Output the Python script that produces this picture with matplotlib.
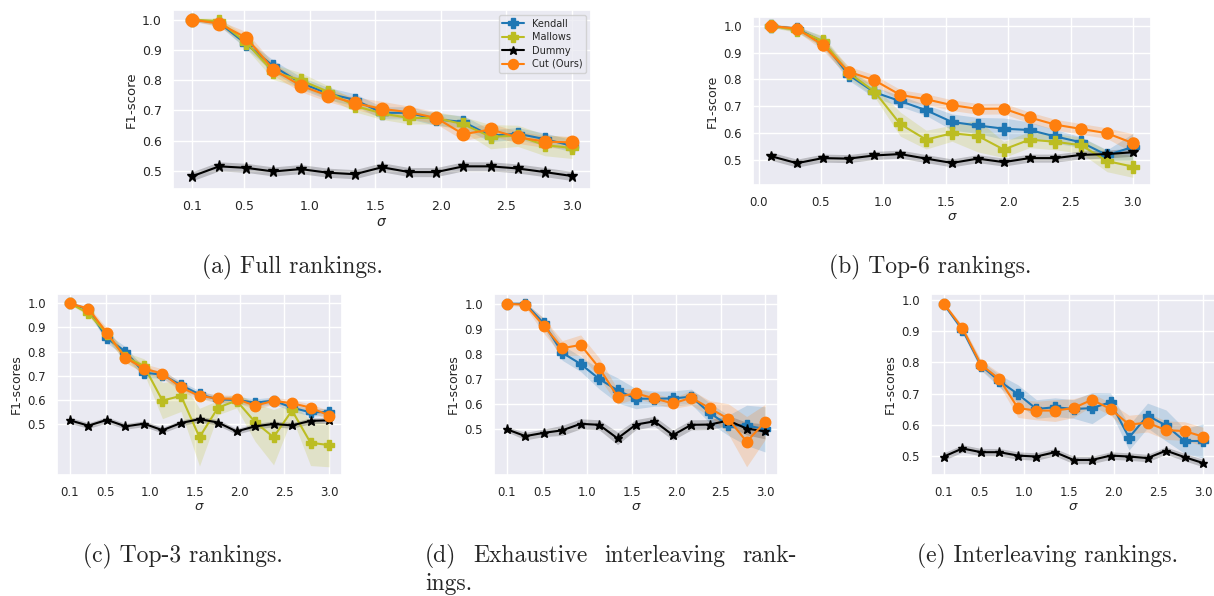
import numpy as np
import matplotlib
matplotlib.use("Agg")
import matplotlib.pyplot as plt
import seaborn as sns

sns.set_theme(style="darkgrid")
plt.rcParams['font.family'] = ['DejaVu Sans']
plt.rcParams['mathtext.fontset'] = 'dejavusans'

sigma = np.linspace(0.1, 3.0, 15)

# (a) Full rankings
a_kendall = [1.0, 0.99, 0.919, 0.846, 0.791, 0.756, 0.735, 0.692, 0.692, 0.670, 0.662, 0.616, 0.623, 0.605, 0.583]
a_mallows = [1.0, 0.995, 0.924, 0.827, 0.800, 0.762, 0.715, 0.690, 0.675, 0.675, 0.654, 0.613, 0.616, 0.585, 0.576]
a_dummy = [0.482, 0.515, 0.510, 0.498, 0.506, 0.494, 0.489, 0.512, 0.496, 0.496, 0.515, 0.515, 0.508, 0.496, 0.483]
a_cut = [1.0, 0.987, 0.940, 0.835, 0.782, 0.749, 0.724, 0.705, 0.694, 0.675, 0.621, 0.637, 0.611, 0.597, 0.594]
a_kendall_err = [0.005, 0.01, 0.015, 0.02, 0.02, 0.02, 0.02, 0.02, 0.02, 0.02, 0.02, 0.02, 0.02, 0.02, 0.02]
a_mallows_err = [0.005, 0.01, 0.02, 0.025, 0.025, 0.02, 0.02, 0.02, 0.02, 0.02, 0.025, 0.04, 0.035, 0.035, 0.035]
a_dummy_err = [0.015] * 15
a_cut_err = [0.005, 0.01, 0.02, 0.02, 0.02, 0.02, 0.02, 0.025, 0.02, 0.02, 0.02, 0.02, 0.02, 0.02, 0.02]

# (b) Top-6 rankings
b_kendall = [1.0, 0.99, 0.94, 0.817, 0.752, 0.719, 0.685, 0.641, 0.628, 0.616, 0.611, 0.587, 0.565, 0.517, 0.548]
b_mallows = [1.0, 0.985, 0.944, 0.825, 0.755, 0.633, 0.575, 0.599, 0.589, 0.538, 0.575, 0.567, 0.554, 0.495, 0.474]
b_dummy = [0.513, 0.487, 0.506, 0.504, 0.516, 0.521, 0.504, 0.488, 0.504, 0.491, 0.506, 0.506, 0.518, 0.521, 0.528]
b_cut = [1.0, 0.99, 0.929, 0.829, 0.797, 0.742, 0.726, 0.704, 0.690, 0.691, 0.658, 0.631, 0.615, 0.599, 0.562]
b_kendall_err = [0.005, 0.01, 0.02, 0.02, 0.02, 0.02, 0.02, 0.03, 0.03, 0.04, 0.03, 0.025, 0.02, 0.02, 0.05]
b_mallows_err = [0.005, 0.01, 0.02, 0.02, 0.02, 0.045, 0.035, 0.03, 0.06, 0.03, 0.03, 0.03, 0.03, 0.04, 0.04]
b_dummy_err = [0.015] * 15
b_cut_err = [0.005, 0.01, 0.02, 0.02, 0.02, 0.02, 0.02, 0.02, 0.02, 0.02, 0.02, 0.02, 0.02, 0.02, 0.035]

# (c) Top-3 rankings
c_kendall = [1.0, 0.975, 0.855, 0.800, 0.712, 0.704, 0.660, 0.622, 0.601, 0.599, 0.588, 0.596, 0.567, 0.547, 0.549]
c_mallows = [1.0, 0.959, 0.873, 0.777, 0.740, 0.596, 0.616, 0.444, 0.567, 0.596, 0.507, 0.444, 0.555, 0.421, 0.411]
c_dummy = [0.514, 0.492, 0.516, 0.489, 0.500, 0.473, 0.503, 0.519, 0.505, 0.468, 0.489, 0.499, 0.493, 0.512, 0.514]
c_cut = [1.0, 0.978, 0.877, 0.774, 0.729, 0.708, 0.651, 0.615, 0.605, 0.603, 0.575, 0.595, 0.585, 0.567, 0.534]
c_kendall_err = [0.005, 0.01, 0.02, 0.02, 0.02, 0.015, 0.015, 0.015, 0.015, 0.015, 0.015, 0.015, 0.015, 0.015, 0.015]
c_mallows_err = [0.005, 0.01, 0.02, 0.02, 0.03, 0.075, 0.065, 0.12, 0.03, 0.03, 0.08, 0.115, 0.03, 0.095, 0.09]
c_dummy_err = [0.012] * 15
c_cut_err = [0.005, 0.01, 0.02, 0.02, 0.02, 0.02, 0.015, 0.015, 0.015, 0.015, 0.015, 0.015, 0.015, 0.015, 0.02]

# (d) Exhaustive interleaving rankings
d_kendall = [1.0, 1.0, 0.922, 0.805, 0.760, 0.701, 0.655, 0.622, 0.622, 0.623, 0.630, 0.565, 0.516, 0.516, 0.500]
d_dummy = [0.500, 0.473, 0.486, 0.496, 0.522, 0.518, 0.464, 0.519, 0.532, 0.477, 0.518, 0.519, 0.535, 0.503, 0.492]
d_cut = [1.0, 0.996, 0.912, 0.823, 0.836, 0.745, 0.630, 0.643, 0.623, 0.603, 0.626, 0.584, 0.542, 0.451, 0.529]
d_kendall_err = [0.005, 0.005, 0.02, 0.03, 0.03, 0.04, 0.05, 0.04, 0.03, 0.03, 0.03, 0.04, 0.04, 0.08, 0.09]
d_dummy_err = [0.01, 0.015, 0.015, 0.02, 0.02, 0.02, 0.025, 0.02, 0.02, 0.02, 0.02, 0.02, 0.02, 0.025, 0.03]
d_cut_err = [0.005, 0.01, 0.03, 0.03, 0.04, 0.04, 0.03, 0.02, 0.02, 0.02, 0.03, 0.03, 0.06, 0.10, 0.07]

# (e) Interleaving rankings
e_kendall = [0.987, 0.905, 0.790, 0.740, 0.698, 0.650, 0.656, 0.650, 0.653, 0.672, 0.558, 0.629, 0.597, 0.547, 0.547]
e_dummy = [0.497, 0.523, 0.511, 0.511, 0.500, 0.497, 0.511, 0.486, 0.486, 0.500, 0.497, 0.492, 0.516, 0.495, 0.476]
e_cut = [0.989, 0.910, 0.793, 0.746, 0.653, 0.645, 0.645, 0.653, 0.680, 0.650, 0.600, 0.606, 0.582, 0.579, 0.561]
e_kendall_err = [0.005, 0.01, 0.015, 0.02, 0.03, 0.03, 0.03, 0.03, 0.05, 0.03, 0.04, 0.04, 0.05, 0.04, 0.055]
e_dummy_err = [0.012] * 15
e_cut_err = [0.005, 0.01, 0.015, 0.02, 0.03, 0.03, 0.035, 0.03, 0.02, 0.02, 0.03, 0.03, 0.03, 0.03, 0.03]

series_names = ["Kendall", "Mallows", "Dummy", "Cut (Ours)"]
xticks_a = [0.1, 0.5, 1.0, 1.5, 2.0, 2.5, 3.0]
xticks_b = [0.0, 0.5, 1.0, 1.5, 2.0, 2.5, 3.0]
yticks = [0.5, 0.6, 0.7, 0.8, 0.9, 1.0]
captions = ["(a) Full rankings.", "(b) Top-6 rankings.", "(c) Top-3 rankings.",
            "(d) Exhaustive interleaving rank-", "(e) Interleaving rankings."]

styles = {
    "Kendall": dict(color="#1f77b4", marker="P"),
    "Mallows": dict(color="#bcbd22", marker="P"),
    "Dummy": dict(color="black", marker="*"),
    "Cut (Ours)": dict(color="#ff7f0e", marker="o"),
}

W, H = 1214, 596
fig = plt.figure(figsize=(W / 100, H / 100), dpi=100)

def add_ax(l, r, t, b):
    return fig.add_axes([l / W, 1 - b / H, (r - l) / W, (b - t) / H])

panels = [
    dict(box=(173, 591, 10, 189), data={"Kendall": (a_kendall, a_kendall_err), "Mallows": (a_mallows, a_mallows_err),
                                          "Dummy": (a_dummy, a_dummy_err), "Cut (Ours)": (a_cut, a_cut_err)},
         xt=xticks_a, ylabel="F1-score", fs=9, ms=9, legend=True),
    dict(box=(753, 1151, 17, 185), data={"Kendall": (b_kendall, b_kendall_err), "Mallows": (b_mallows, b_mallows_err),
                                          "Dummy": (b_dummy, b_dummy_err), "Cut (Ours)": (b_cut, b_cut_err)},
         xt=xticks_b, ylabel="F1-score", fs=8.5, ms=8, legend=False),
    dict(box=(57, 342, 294, 475), data={"Kendall": (c_kendall, c_kendall_err), "Mallows": (c_mallows, c_mallows_err),
                                         "Dummy": (c_dummy, c_dummy_err), "Cut (Ours)": (c_cut, c_cut_err)},
         xt=xticks_a, ylabel="F1-scores", fs=8.5, ms=7.5, legend=False),
    dict(box=(494, 778, 294, 475), data={"Kendall": (d_kendall, d_kendall_err),
                                          "Dummy": (d_dummy, d_dummy_err), "Cut (Ours)": (d_cut, d_cut_err)},
         xt=xticks_a, ylabel="F1-scores", fs=8.5, ms=7.5, legend=False),
    dict(box=(931, 1216, 294, 475), data={"Kendall": (e_kendall, e_kendall_err),
                                           "Dummy": (e_dummy, e_dummy_err), "Cut (Ours)": (e_cut, e_cut_err)},
         xt=xticks_a, ylabel="F1-scores", fs=8.5, ms=7.5, legend=False),
]

for p in panels:
    ax = add_ax(*p["box"])
    for name in series_names:
        if name not in p["data"]:
            continue
        y, e = p["data"][name]
        y = np.array(y); e = np.array(e)
        st = styles[name]
        ms = p["ms"] * (0.9 if name == "Dummy" else 1.0)
        ax.fill_between(sigma, y - e, y + e, color=st["color"], alpha=0.2, linewidth=0)
        ax.plot(sigma, y, color=st["color"], marker=st["marker"], markersize=ms,
                linewidth=1.5, label=name)
    ax.set_xticks(p["xt"])
    ax.set_yticks(yticks)
    ax.tick_params(labelsize=p["fs"], pad=2, colors=".15")
    ax.set_xlabel(r"$\sigma$", fontsize=p["fs"] + 1, labelpad=1)
    ax.set_ylabel(p["ylabel"], fontsize=p["fs"] + 0.5, labelpad=3)
    if p["legend"]:
        ax.legend(loc="upper right", fontsize=7, markerscale=0.8, handlelength=2.2,
                  borderpad=0.4, labelspacing=0.35, framealpha=0.8)

cap_kw = dict(fontsize=17, family="cmr10", va="center")
fig.text(292 / W, 1 - 267 / H, captions[0], ha="center", **cap_kw)
fig.text(930 / W, 1 - 267 / H, captions[1], ha="center", **cap_kw)
fig.text(183 / W, 1 - 556 / H, captions[2], ha="center", **cap_kw)

# justified first line for (d), spanning x = 425 .. 797 px
words_d = captions[3].split(" ")
fig.canvas.draw()
renderer = fig.canvas.get_renderer()
tmp = [fig.text(0, 0, w, **cap_kw) for w in words_d]
widths = [t.get_window_extent(renderer).width for t in tmp]
for t in tmp:
    t.remove()
x0, x1 = 425, 797
gap = (x1 - x0 - sum(widths)) / (len(words_d) - 1)
x = x0
for w, wd in zip(words_d, widths):
    fig.text(x / W, 1 - 556 / H, w, ha="left", **cap_kw)
    x += wd + gap
fig.text(425 / W, 1 - 584 / H, "ings.", ha="left", **cap_kw)
fig.text(1048 / W, 1 - 556 / H, captions[4], ha="center", **cap_kw)

fig.savefig("out.png", dpi=100)
